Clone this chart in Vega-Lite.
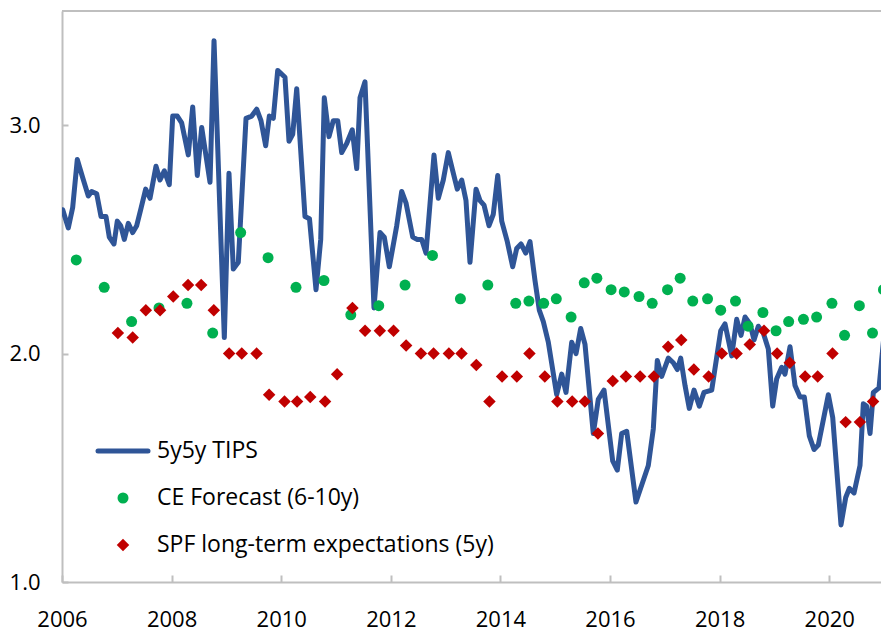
{
  "$schema": "https://vega.github.io/schema/vega-lite/v6.json",
  "width": 819,
  "height": 571,
  "autosize": {"type": "none"},
  "padding": {"left": 62, "top": 11, "right": 0, "bottom": 49},
  "background": "white",
  "config": {"view": {"stroke": null}, "font": "Open Sans"},
  "datasets": {
    "tips": [
      {"t":2006.013,"v":2.63,"series":"5y5y TIPS"},{"t":2006.115,"v":2.55,"series":"5y5y TIPS"},{"t":2006.195,"v":2.64,"series":"5y5y TIPS"},{"t":2006.279,"v":2.85,"series":"5y5y TIPS"},{"t":2006.378,"v":2.77,"series":"5y5y TIPS"},{"t":2006.48,"v":2.69,"series":"5y5y TIPS"},{"t":2006.542,"v":2.71,"series":"5y5y TIPS"},{"t":2006.633,"v":2.7,"series":"5y5y TIPS"},{"t":2006.712,"v":2.6,"series":"5y5y TIPS"},{"t":2006.803,"v":2.6,"series":"5y5y TIPS"},{"t":2006.863,"v":2.51,"series":"5y5y TIPS"},{"t":2006.949,"v":2.48,"series":"5y5y TIPS"},
      {"t":2007.009,"v":2.58,"series":"5y5y TIPS"},{"t":2007.071,"v":2.56,"series":"5y5y TIPS"},{"t":2007.137,"v":2.5,"series":"5y5y TIPS"},{"t":2007.21,"v":2.57,"series":"5y5y TIPS"},{"t":2007.29,"v":2.53,"series":"5y5y TIPS"},{"t":2007.363,"v":2.56,"series":"5y5y TIPS"},{"t":2007.436,"v":2.63,"series":"5y5y TIPS"},{"t":2007.527,"v":2.72,"series":"5y5y TIPS"},{"t":2007.606,"v":2.68,"series":"5y5y TIPS"},{"t":2007.715,"v":2.82,"series":"5y5y TIPS"},{"t":2007.788,"v":2.76,"series":"5y5y TIPS"},{"t":2007.867,"v":2.8,"series":"5y5y TIPS"},{"t":2007.958,"v":2.74,"series":"5y5y TIPS"},
      {"t":2008.02,"v":3.04,"series":"5y5y TIPS"},{"t":2008.104,"v":3.04,"series":"5y5y TIPS"},{"t":2008.184,"v":3.01,"series":"5y5y TIPS"},{"t":2008.305,"v":2.87,"series":"5y5y TIPS"},{"t":2008.385,"v":3.08,"series":"5y5y TIPS"},{"t":2008.469,"v":2.78,"series":"5y5y TIPS"},{"t":2008.549,"v":2.99,"series":"5y5y TIPS"},{"t":2008.701,"v":2.75,"series":"5y5y TIPS"},{"t":2008.774,"v":3.37,"series":"5y5y TIPS"},{"t":2008.962,"v":2.07,"series":"5y5y TIPS"},
      {"t":2009.047,"v":2.79,"series":"5y5y TIPS"},{"t":2009.126,"v":2.37,"series":"5y5y TIPS"},{"t":2009.217,"v":2.4,"series":"5y5y TIPS"},{"t":2009.358,"v":3.03,"series":"5y5y TIPS"},{"t":2009.462,"v":3.04,"series":"5y5y TIPS"},{"t":2009.553,"v":3.07,"series":"5y5y TIPS"},{"t":2009.631,"v":3.02,"series":"5y5y TIPS"},{"t":2009.717,"v":2.91,"series":"5y5y TIPS"},{"t":2009.783,"v":3.04,"series":"5y5y TIPS"},{"t":2009.856,"v":3.03,"series":"5y5y TIPS"},{"t":2009.936,"v":3.24,"series":"5y5y TIPS"},
      {"t":2010.069,"v":3.21,"series":"5y5y TIPS"},{"t":2010.142,"v":2.93,"series":"5y5y TIPS"},{"t":2010.21,"v":2.96,"series":"5y5y TIPS"},{"t":2010.283,"v":3.16,"series":"5y5y TIPS"},{"t":2010.434,"v":2.6,"series":"5y5y TIPS"},{"t":2010.516,"v":2.59,"series":"5y5y TIPS"},{"t":2010.635,"v":2.28,"series":"5y5y TIPS"},{"t":2010.721,"v":2.5,"series":"5y5y TIPS"},{"t":2010.786,"v":3.12,"series":"5y5y TIPS"},{"t":2010.872,"v":2.95,"series":"5y5y TIPS"},{"t":2010.951,"v":3.02,"series":"5y5y TIPS"},
      {"t":2011.031,"v":3.02,"series":"5y5y TIPS"},{"t":2011.104,"v":2.88,"series":"5y5y TIPS"},{"t":2011.195,"v":2.92,"series":"5y5y TIPS"},{"t":2011.297,"v":2.98,"series":"5y5y TIPS"},{"t":2011.378,"v":2.81,"series":"5y5y TIPS"},{"t":2011.438,"v":3.12,"series":"5y5y TIPS"},{"t":2011.529,"v":3.19,"series":"5y5y TIPS"},{"t":2011.693,"v":2.2,"series":"5y5y TIPS"},{"t":2011.803,"v":2.53,"series":"5y5y TIPS"},{"t":2011.881,"v":2.51,"series":"5y5y TIPS"},{"t":2011.973,"v":2.38,"series":"5y5y TIPS"},
      {"t":2012.108,"v":2.56,"series":"5y5y TIPS"},{"t":2012.199,"v":2.71,"series":"5y5y TIPS"},{"t":2012.277,"v":2.66,"series":"5y5y TIPS"},{"t":2012.4,"v":2.51,"series":"5y5y TIPS"},{"t":2012.484,"v":2.5,"series":"5y5y TIPS"},{"t":2012.564,"v":2.5,"series":"5y5y TIPS"},{"t":2012.642,"v":2.44,"series":"5y5y TIPS"},{"t":2012.788,"v":2.87,"series":"5y5y TIPS"},{"t":2012.867,"v":2.68,"series":"5y5y TIPS"},{"t":2012.958,"v":2.76,"series":"5y5y TIPS"},
      {"t":2013.049,"v":2.88,"series":"5y5y TIPS"},{"t":2013.13,"v":2.8,"series":"5y5y TIPS"},{"t":2013.213,"v":2.72,"series":"5y5y TIPS"},{"t":2013.294,"v":2.76,"series":"5y5y TIPS"},{"t":2013.372,"v":2.67,"series":"5y5y TIPS"},{"t":2013.445,"v":2.4,"series":"5y5y TIPS"},{"t":2013.555,"v":2.72,"series":"5y5y TIPS"},{"t":2013.628,"v":2.67,"series":"5y5y TIPS"},{"t":2013.701,"v":2.65,"series":"5y5y TIPS"},{"t":2013.792,"v":2.56,"series":"5y5y TIPS"},{"t":2013.87,"v":2.61,"series":"5y5y TIPS"},{"t":2013.951,"v":2.78,"series":"5y5y TIPS"},
      {"t":2014.024,"v":2.58,"series":"5y5y TIPS"},{"t":2014.126,"v":2.49,"series":"5y5y TIPS"},{"t":2014.224,"v":2.38,"series":"5y5y TIPS"},{"t":2014.297,"v":2.46,"series":"5y5y TIPS"},{"t":2014.376,"v":2.48,"series":"5y5y TIPS"},{"t":2014.462,"v":2.44,"series":"5y5y TIPS"},{"t":2014.54,"v":2.49,"series":"5y5y TIPS"},{"t":2014.631,"v":2.32,"series":"5y5y TIPS"},{"t":2014.71,"v":2.19,"series":"5y5y TIPS"},{"t":2014.783,"v":2.14,"series":"5y5y TIPS"},{"t":2014.874,"v":2.05,"series":"5y5y TIPS"},
      {"t":2015.027,"v":1.82,"series":"5y5y TIPS"},{"t":2015.119,"v":1.91,"series":"5y5y TIPS"},{"t":2015.197,"v":1.83,"series":"5y5y TIPS"},{"t":2015.301,"v":2.05,"series":"5y5y TIPS"},{"t":2015.38,"v":2.0,"series":"5y5y TIPS"},{"t":2015.465,"v":2.11,"series":"5y5y TIPS"},{"t":2015.544,"v":2.04,"series":"5y5y TIPS"},{"t":2015.695,"v":1.65,"series":"5y5y TIPS"},{"t":2015.786,"v":1.8,"series":"5y5y TIPS"},{"t":2015.891,"v":1.84,"series":"5y5y TIPS"},
      {"t":2016.049,"v":1.53,"series":"5y5y TIPS"},{"t":2016.133,"v":1.49,"series":"5y5y TIPS"},{"t":2016.213,"v":1.65,"series":"5y5y TIPS"},{"t":2016.305,"v":1.66,"series":"5y5y TIPS"},{"t":2016.474,"v":1.35,"series":"5y5y TIPS"},{"t":2016.699,"v":1.51,"series":"5y5y TIPS"},{"t":2016.79,"v":1.67,"series":"5y5y TIPS"},{"t":2016.863,"v":1.97,"series":"5y5y TIPS"},{"t":2016.943,"v":1.9,"series":"5y5y TIPS"},
      {"t":2017.064,"v":1.98,"series":"5y5y TIPS"},{"t":2017.155,"v":1.96,"series":"5y5y TIPS"},{"t":2017.228,"v":1.93,"series":"5y5y TIPS"},{"t":2017.29,"v":1.98,"series":"5y5y TIPS"},{"t":2017.369,"v":1.86,"series":"5y5y TIPS"},{"t":2017.447,"v":1.76,"series":"5y5y TIPS"},{"t":2017.533,"v":1.84,"series":"5y5y TIPS"},{"t":2017.63,"v":1.77,"series":"5y5y TIPS"},{"t":2017.715,"v":1.83,"series":"5y5y TIPS"},{"t":2017.856,"v":1.84,"series":"5y5y TIPS"},
      {"t":2018.02,"v":2.1,"series":"5y5y TIPS"},{"t":2018.099,"v":2.13,"series":"5y5y TIPS"},{"t":2018.221,"v":1.99,"series":"5y5y TIPS"},{"t":2018.312,"v":2.15,"series":"5y5y TIPS"},{"t":2018.391,"v":2.08,"series":"5y5y TIPS"},{"t":2018.464,"v":2.16,"series":"5y5y TIPS"},{"t":2018.555,"v":2.13,"series":"5y5y TIPS"},{"t":2018.628,"v":2.06,"series":"5y5y TIPS"},{"t":2018.706,"v":2.12,"series":"5y5y TIPS"},{"t":2018.797,"v":2.09,"series":"5y5y TIPS"},{"t":2018.889,"v":2.02,"series":"5y5y TIPS"},{"t":2018.969,"v":1.77,"series":"5y5y TIPS"},
      {"t":2019.042,"v":1.89,"series":"5y5y TIPS"},{"t":2019.133,"v":1.94,"series":"5y5y TIPS"},{"t":2019.193,"v":1.91,"series":"5y5y TIPS"},{"t":2019.285,"v":2.03,"series":"5y5y TIPS"},{"t":2019.376,"v":1.86,"series":"5y5y TIPS"},{"t":2019.467,"v":1.81,"series":"5y5y TIPS"},{"t":2019.546,"v":1.81,"series":"5y5y TIPS"},{"t":2019.637,"v":1.64,"series":"5y5y TIPS"},{"t":2019.723,"v":1.58,"series":"5y5y TIPS"},{"t":2019.801,"v":1.6,"series":"5y5y TIPS"},{"t":2019.984,"v":1.82,"series":"5y5y TIPS"},
      {"t":2020.064,"v":1.72,"series":"5y5y TIPS"},{"t":2020.215,"v":1.25,"series":"5y5y TIPS"},{"t":2020.301,"v":1.37,"series":"5y5y TIPS"},{"t":2020.367,"v":1.41,"series":"5y5y TIPS"},{"t":2020.453,"v":1.39,"series":"5y5y TIPS"},{"t":2020.562,"v":1.51,"series":"5y5y TIPS"},{"t":2020.622,"v":1.78,"series":"5y5y TIPS"},{"t":2020.681,"v":1.77,"series":"5y5y TIPS"},{"t":2020.745,"v":1.65,"series":"5y5y TIPS"},{"t":2020.805,"v":1.83,"series":"5y5y TIPS"},{"t":2020.909,"v":1.85,"series":"5y5y TIPS"},{"t":2021.0,"v":2.08,"series":"5y5y TIPS"}
    ],
    "ce": [
      {"t":2006.26,"v":2.41,"series":"CE Forecast (6-10y)"},{"t":2006.77,"v":2.29,"series":"CE Forecast (6-10y)"},{"t":2007.27,"v":2.14,"series":"CE Forecast (6-10y)"},{"t":2007.77,"v":2.2,"series":"CE Forecast (6-10y)"},{"t":2008.28,"v":2.22,"series":"CE Forecast (6-10y)"},{"t":2008.75,"v":2.09,"series":"CE Forecast (6-10y)"},{"t":2009.26,"v":2.53,"series":"CE Forecast (6-10y)"},{"t":2009.76,"v":2.42,"series":"CE Forecast (6-10y)"},{"t":2010.27,"v":2.29,"series":"CE Forecast (6-10y)"},{"t":2010.78,"v":2.32,"series":"CE Forecast (6-10y)"},{"t":2011.27,"v":2.17,"series":"CE Forecast (6-10y)"},{"t":2011.78,"v":2.21,"series":"CE Forecast (6-10y)"},{"t":2012.26,"v":2.3,"series":"CE Forecast (6-10y)"},{"t":2012.76,"v":2.43,"series":"CE Forecast (6-10y)"},{"t":2013.27,"v":2.24,"series":"CE Forecast (6-10y)"},{"t":2013.77,"v":2.3,"series":"CE Forecast (6-10y)"},{"t":2014.28,"v":2.22,"series":"CE Forecast (6-10y)"},{"t":2014.52,"v":2.23,"series":"CE Forecast (6-10y)"},{"t":2014.79,"v":2.22,"series":"CE Forecast (6-10y)"},{"t":2015.02,"v":2.24,"series":"CE Forecast (6-10y)"},{"t":2015.29,"v":2.16,"series":"CE Forecast (6-10y)"},{"t":2015.53,"v":2.31,"series":"CE Forecast (6-10y)"},{"t":2015.76,"v":2.33,"series":"CE Forecast (6-10y)"},{"t":2016.02,"v":2.28,"series":"CE Forecast (6-10y)"},{"t":2016.26,"v":2.27,"series":"CE Forecast (6-10y)"},{"t":2016.53,"v":2.25,"series":"CE Forecast (6-10y)"},{"t":2016.77,"v":2.22,"series":"CE Forecast (6-10y)"},{"t":2017.05,"v":2.28,"series":"CE Forecast (6-10y)"},{"t":2017.28,"v":2.33,"series":"CE Forecast (6-10y)"},{"t":2017.51,"v":2.23,"series":"CE Forecast (6-10y)"},{"t":2017.78,"v":2.24,"series":"CE Forecast (6-10y)"},{"t":2018.02,"v":2.19,"series":"CE Forecast (6-10y)"},{"t":2018.29,"v":2.23,"series":"CE Forecast (6-10y)"},{"t":2018.52,"v":2.12,"series":"CE Forecast (6-10y)"},{"t":2018.79,"v":2.18,"series":"CE Forecast (6-10y)"},{"t":2019.03,"v":2.1,"series":"CE Forecast (6-10y)"},{"t":2019.26,"v":2.14,"series":"CE Forecast (6-10y)"},{"t":2019.53,"v":2.15,"series":"CE Forecast (6-10y)"},{"t":2019.77,"v":2.16,"series":"CE Forecast (6-10y)"},{"t":2020.05,"v":2.22,"series":"CE Forecast (6-10y)"},{"t":2020.28,"v":2.08,"series":"CE Forecast (6-10y)"},{"t":2020.55,"v":2.21,"series":"CE Forecast (6-10y)"},{"t":2020.79,"v":2.09,"series":"CE Forecast (6-10y)"},{"t":2020.99,"v":2.28,"series":"CE Forecast (6-10y)"}
    ],
    "spf": [
      {"t":2007.02,"v":2.09,"series":"SPF long-term expectations (5y)"},{"t":2007.29,"v":2.07,"series":"SPF long-term expectations (5y)"},{"t":2007.53,"v":2.19,"series":"SPF long-term expectations (5y)"},{"t":2007.79,"v":2.19,"series":"SPF long-term expectations (5y)"},{"t":2008.03,"v":2.25,"series":"SPF long-term expectations (5y)"},{"t":2008.3,"v":2.3,"series":"SPF long-term expectations (5y)"},{"t":2008.54,"v":2.3,"series":"SPF long-term expectations (5y)"},{"t":2008.77,"v":2.19,"series":"SPF long-term expectations (5y)"},{"t":2009.05,"v":2.0,"series":"SPF long-term expectations (5y)"},{"t":2009.28,"v":2.0,"series":"SPF long-term expectations (5y)"},{"t":2009.55,"v":2.0,"series":"SPF long-term expectations (5y)"},{"t":2009.78,"v":1.82,"series":"SPF long-term expectations (5y)"},{"t":2010.06,"v":1.79,"series":"SPF long-term expectations (5y)"},{"t":2010.29,"v":1.79,"series":"SPF long-term expectations (5y)"},{"t":2010.53,"v":1.81,"series":"SPF long-term expectations (5y)"},{"t":2010.8,"v":1.79,"series":"SPF long-term expectations (5y)"},{"t":2011.02,"v":1.91,"series":"SPF long-term expectations (5y)"},{"t":2011.3,"v":2.2,"series":"SPF long-term expectations (5y)"},{"t":2011.53,"v":2.1,"series":"SPF long-term expectations (5y)"},{"t":2011.8,"v":2.1,"series":"SPF long-term expectations (5y)"},{"t":2012.05,"v":2.1,"series":"SPF long-term expectations (5y)"},{"t":2012.28,"v":2.035,"series":"SPF long-term expectations (5y)"},{"t":2012.55,"v":2.0,"series":"SPF long-term expectations (5y)"},{"t":2012.78,"v":2.0,"series":"SPF long-term expectations (5y)"},{"t":2013.06,"v":2.0,"series":"SPF long-term expectations (5y)"},{"t":2013.29,"v":2.0,"series":"SPF long-term expectations (5y)"},{"t":2013.56,"v":1.95,"series":"SPF long-term expectations (5y)"},{"t":2013.8,"v":1.79,"series":"SPF long-term expectations (5y)"},{"t":2014.03,"v":1.9,"series":"SPF long-term expectations (5y)"},{"t":2014.3,"v":1.9,"series":"SPF long-term expectations (5y)"},{"t":2014.53,"v":2.0,"series":"SPF long-term expectations (5y)"},{"t":2014.81,"v":1.9,"series":"SPF long-term expectations (5y)"},{"t":2015.04,"v":1.79,"series":"SPF long-term expectations (5y)"},{"t":2015.31,"v":1.79,"series":"SPF long-term expectations (5y)"},{"t":2015.54,"v":1.79,"series":"SPF long-term expectations (5y)"},{"t":2015.78,"v":1.65,"series":"SPF long-term expectations (5y)"},{"t":2016.05,"v":1.88,"series":"SPF long-term expectations (5y)"},{"t":2016.29,"v":1.9,"series":"SPF long-term expectations (5y)"},{"t":2016.55,"v":1.9,"series":"SPF long-term expectations (5y)"},{"t":2016.8,"v":1.9,"series":"SPF long-term expectations (5y)"},{"t":2017.06,"v":2.03,"series":"SPF long-term expectations (5y)"},{"t":2017.3,"v":2.06,"series":"SPF long-term expectations (5y)"},{"t":2017.53,"v":1.93,"series":"SPF long-term expectations (5y)"},{"t":2017.8,"v":1.9,"series":"SPF long-term expectations (5y)"},{"t":2018.04,"v":2.0,"series":"SPF long-term expectations (5y)"},{"t":2018.31,"v":2.0,"series":"SPF long-term expectations (5y)"},{"t":2018.55,"v":2.04,"series":"SPF long-term expectations (5y)"},{"t":2018.81,"v":2.1,"series":"SPF long-term expectations (5y)"},{"t":2019.05,"v":2.0,"series":"SPF long-term expectations (5y)"},{"t":2019.28,"v":1.96,"series":"SPF long-term expectations (5y)"},{"t":2019.56,"v":1.9,"series":"SPF long-term expectations (5y)"},{"t":2019.79,"v":1.9,"series":"SPF long-term expectations (5y)"},{"t":2020.06,"v":2.0,"series":"SPF long-term expectations (5y)"},{"t":2020.3,"v":1.7,"series":"SPF long-term expectations (5y)"},{"t":2020.56,"v":1.7,"series":"SPF long-term expectations (5y)"},{"t":2020.8,"v":1.79,"series":"SPF long-term expectations (5y)"},{"t":2021.05,"v":2.0,"series":"SPF long-term expectations (5y)"}
    ]
  },
  "encoding": {
    "x": {
      "field": "t", "type": "quantitative",
      "scale": {"domain": [2006, 2020.945], "nice": false, "zero": false},
      "axis": {
        "title": null, "values": [2006, 2008, 2010, 2012, 2014, 2016, 2018, 2020], "format": "d",
        "grid": false, "domainColor": "#bfbfbf", "domainWidth": 2, "tickColor": "#bfbfbf", "tickWidth": 2,
        "tickSize": -7, "labelPadding": 51, "labelBaseline": "alphabetic", "labelFont": "Open Sans",
        "labelFontSize": 22, "labelColor": "#000000", "labelFlush": false, "labelOverlap": false
      }
    },
    "y": {
      "field": "v", "type": "quantitative",
      "scale": {"domain": [1, 3.5], "nice": false, "zero": false},
      "axis": {
        "title": null, "values": [1, 2, 3], "format": ".1f",
        "grid": false, "domainColor": "#bfbfbf", "domainWidth": 2, "tickColor": "#bfbfbf", "tickWidth": 2,
        "tickSize": -6, "labelPadding": 28, "labelFont": "Open Sans",
        "labelFontSize": 22, "labelColor": "#000000", "labelFlush": false, "labelOverlap": false
      }
    }
  },
  "layer": [
    {
      "data": {"values": [{"top": 3.5}]},
      "mark": {"type": "rule", "color": "#bfbfbf", "strokeWidth": 2},
      "encoding": {"y": {"field": "top", "type": "quantitative"}, "x": null}
    },
    {
      "data": {"name": "tips"},
      "mark": {"type": "line", "strokeWidth": 5, "strokeJoin": "round", "strokeCap": "round", "clip": true},
      "encoding": {
        "color": {
          "field": "series", "type": "nominal",
          "scale": {"domain": ["5y5y TIPS", "CE Forecast (6-10y)", "SPF long-term expectations (5y)"], "range": ["#2F5597", "#00B050", "#C00000"]},
          "legend": {
            "title": null, "orient": "none", "legendX": 49.5, "legendY": 428.5, "padding": 0,
            "labelFont": "Open Sans", "labelFontSize": 23, "labelColor": "#000000", "labelLimit": 600,
            "symbolSize": 150, "rowPadding": 23, "labelOffset": 22.5, "symbolOffset": 0,
            "encode": {
              "symbols": {
                "update": {
                  "shape": {"signal": "datum.value === '5y5y TIPS' ? 'stroke' : datum.value === 'CE Forecast (6-10y)' ? 'circle' : 'diamond'"},
                  "size": {"signal": "datum.value === '5y5y TIPS' ? 2500 : datum.value === 'CE Forecast (6-10y)' ? 121 : 156"},
                  "strokeWidth": {"signal": "datum.value === '5y5y TIPS' ? 5 : 0"},
                  "fill": {"signal": "datum.value === '5y5y TIPS' ? 'transparent' : datum.value === 'CE Forecast (6-10y)' ? '#00B050' : '#C00000'"},
                  "stroke": {"signal": "datum.value === '5y5y TIPS' ? '#2F5597' : 'transparent'"},
                  "strokeCap": {"value": "round"},
                  "opacity": {"value": 1}
                }
              }
            }
          }
        }
      }
    },
    {
      "data": {"name": "ce"},
      "mark": {"type": "point", "shape": "circle", "filled": true, "size": 121, "opacity": 1, "clip": true},
      "encoding": {"color": {"field": "series", "type": "nominal"}}
    },
    {
      "data": {"name": "spf"},
      "mark": {"type": "point", "shape": "diamond", "filled": true, "size": 156, "opacity": 1, "clip": true},
      "encoding": {"color": {"field": "series", "type": "nominal"}}
    }
  ]
}
